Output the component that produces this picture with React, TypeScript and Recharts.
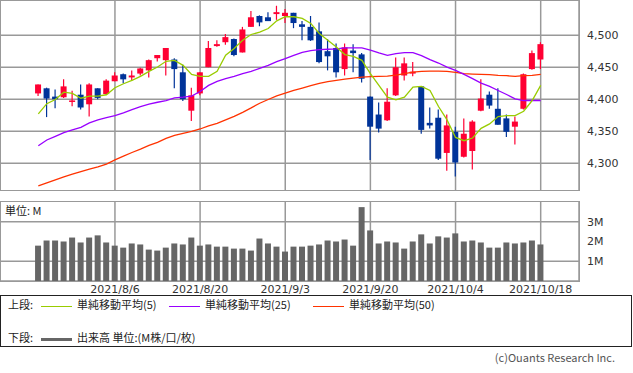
import React from "react";
import { ComposedChart, Bar, Line, XAxis, YAxis, CartesianGrid } from "recharts";

// x positions are candle indexes, labels shown every 10 sessions
const dateTicks = [9, 19, 29, 39, 49, 59];
const dateLabels = ["2021/8/6", "2021/8/20", "2021/9/3", "2021/9/20", "2021/10/4", "2021/10/18"];
const priceTicks = [4300, 4350, 4400, 4450, 4500];
const volumeTicks = [1, 2, 3];

const opens = [
  4409, 4417, 4404, 4403, 4397, 4407, 4392, 4417, 4408, 4428,
  4439, 4434, 4440, 4445, 4464, 4461, 4462, 4442, 4382, 4409,
  4450, 4483, 4489, 4494, 4473, 4513, 4530, 4528, 4533, 4530,
  4535, 4517, 4513, 4506, 4475, 4480, 4447, 4476, 4470, 4404,
  4376, 4367, 4406, 4437, 4440, 4420, 4363, 4371, 4316, 4349,
  4310, 4319, 4382, 4407, 4385, 4370, 4357, 4385, 4447, 4462,
];
const highs = [
  4423, 4418, 4415, 4431, 4413, 4423, 4425, 4417, 4431, 4442,
  4440, 4445, 4449, 4462, 4469, 4480, 4464, 4454, 4418, 4442,
  4491, 4492, 4502, 4495, 4513, 4538, 4531, 4536, 4546, 4541,
  4535, 4522, 4530, 4520, 4494, 4487, 4487, 4486, 4472, 4404,
  4395, 4417, 4465, 4465, 4458, 4420, 4387, 4384, 4376, 4357,
  4370, 4367, 4431, 4412, 4417, 4376, 4373, 4440, 4476, 4489,
];
const lows = [
  4405, 4372, 4386, 4402, 4389, 4384, 4373, 4400, 4407, 4428,
  4425, 4429, 4437, 4434, 4459, 4437, 4417, 4397, 4366, 4406,
  4450, 4482, 4485, 4467, 4473, 4513, 4514, 4522, 4524, 4519,
  4511, 4492, 4491, 4456, 4445, 4434, 4437, 4442, 4426, 4305,
  4348, 4366, 4405, 4429, 4436, 4346, 4354, 4305, 4288, 4279,
  4309, 4290, 4381, 4385, 4360, 4341, 4329, 4384, 4446, 4447,
];
const closes = [
  4423, 4401, 4400, 4420, 4398, 4387, 4423, 4402, 4429, 4437,
  4431, 4437, 4448, 4461, 4469, 4480, 4447, 4400, 4406, 4442,
  4480, 4486, 4497, 4469, 4509, 4528, 4520, 4522, 4536, 4535,
  4519, 4513, 4492, 4458, 4467, 4442, 4481, 4472, 4432, 4357,
  4354, 4396, 4450, 4456, 4443, 4352, 4359, 4307, 4359, 4301,
  4346, 4365, 4401, 4390, 4360, 4349, 4365, 4439, 4472, 4486,
];

const ma5 = [
  4377, 4393, 4399.5, 4411, 4409, 4401.5, 4404.7, 4404.7, 4406.9, 4417.9,
  4424.1, 4429.3, 4435.6, 4443.5, 4450.2, 4459.2, 4460.7, 4452.9, 4438.7, 4435.6,
  4435.6, 4443.5, 4468.6, 4479.1, 4492.2, 4501.1, 4504.7, 4510.5, 4522.5, 4528.8,
  4528.8, 4526.3, 4518.4, 4502.7, 4492.2, 4481.6, 4469.7, 4467, 4460.7, 4439.8,
  4421.5, 4403.1, 4399, 4403.1, 4418.8, 4419.9, 4413.6, 4388.5, 4367.6, 4340.2,
  4335.1, 4339.3, 4354.4, 4361.3, 4372.8, 4374.3, 4374.3, 4381.1, 4397.9, 4421.5,
];
const ma25 = [
  4327.2, 4336.2, 4341.8, 4347.6, 4351.9, 4356, 4362.9, 4367.6, 4371.2, 4374.3,
  4378.6, 4383.8, 4388.5, 4392.1, 4395.2, 4397.9, 4402.1, 4403.1, 4404.7, 4412,
  4421.5, 4427.7, 4432, 4435.6, 4439.8, 4443.5, 4448.2, 4452.9, 4458.7, 4463.4,
  4468.6, 4473.3, 4476, 4477.5, 4478, 4478.5, 4480.1, 4480.1, 4480.1, 4476.5,
  4472.2, 4468.6, 4471.3, 4472.8, 4472.8, 4468.1, 4461.8, 4456.5, 4450.2, 4445,
  4438.7, 4432, 4425.1, 4419.9, 4413.6, 4407.3, 4400.6, 4397.9, 4397.9, 4397.9,
];
const ma50 = [
  4264.4, 4269.1, 4273.8, 4278.5, 4282.7, 4286.8, 4290.6, 4294.2, 4298.5, 4305.2,
  4311, 4316.7, 4322, 4327.7, 4332.4, 4338.7, 4343.4, 4346.5, 4349.7, 4353.4,
  4358.2, 4362.2, 4367.6, 4373.2, 4379.5, 4386.4, 4393.7, 4399.5, 4405.3, 4409.4,
  4413.6, 4417.2, 4421, 4424.6, 4427.3, 4429.3, 4431.4, 4432.9, 4434.5, 4435.1,
  4435.6, 4436.1, 4437.6, 4439.8, 4442.4, 4443.5, 4443.9, 4443.9, 4443.5, 4441.9,
  4439.8, 4439.2, 4438.7, 4438.3, 4437.2, 4436.7, 4435.6, 4436.7, 4437.2, 4438.7,
];
// volume in millions
const volumes = [
  1.79, 2.05, 2.05, 2.0, 2.2, 1.95, 2.2, 2.31, 1.95, 1.79,
  1.69, 1.9, 1.85, 1.59, 1.54, 1.69, 1.9, 1.85, 2.2, 1.79,
  1.85, 1.74, 1.74, 1.64, 1.64, 1.54, 2.15, 1.9, 1.74, 1.49,
  1.74, 1.74, 1.79, 1.85, 2.05, 2.0, 2.1, 1.79, 3.74, 2.56,
  1.9, 2.0, 1.95, 1.64, 2.0, 2.36, 1.9, 2.26, 2.2, 2.41,
  2.0, 2.05, 1.95, 1.69, 1.69, 1.95, 1.9, 1.95, 2.05, 1.85,
];

const rows = opens.map((open, i) => ({
  i,
  open,
  high: highs[i],
  low: lows[i],
  close: closes[i],
  ma5: ma5[i],
  ma25: ma25[i],
  ma50: ma50[i],
  volume: volumes[i],
}));

const UP = "#ff0033";
const DOWN = "#003399";
const GRID = "#999";
const numFont = { fontSize: 11, fill: "#333", fontFamily: "DejaVu Sans" };
const jpFont = "'Noto Sans CJK JP', sans-serif";

const Candle = (props: any) => {
  const { x, y, width, height, payload } = props;
  if (!payload) return null;
  const { open, close, high, low } = payload;
  const color = close >= open ? UP : DOWN;
  const top = Math.min(y, y + height);
  const h = Math.abs(height);
  const yOf = (v: number) => (high === low ? top : top + ((high - v) / (high - low)) * h);
  const cx = x + width / 2;
  const bTop = yOf(Math.max(open, close));
  const bBot = yOf(Math.min(open, close));
  return (
    <g>
      <line x1={cx} x2={cx} y1={top} y2={top + h} stroke={color} strokeWidth={1.2} />
      <rect x={x} y={bTop} width={width} height={Math.max(bBot - bTop, 1.5)} fill={color} />
    </g>
  );
};

const dateLabel = (v: number) => dateLabels[dateTicks.indexOf(v)] ?? "";

const LegendLine = ({ color, thick }: { color: string; thick?: boolean }) => (
  <span style={{ display: "inline-block", width: 31, height: thick ? 3 : 1, background: color, margin: "0 5px 0 0", verticalAlign: "middle" }} />
);

export default function App() {
  return (
    <div style={{ position: "absolute", left: 0, top: 0, width: 633, height: 373, background: "#fff", fontFamily: jpFont, color: "#222" }}>
      {/* upper panel: candles and moving averages */}
      <div style={{ position: "absolute", left: 0, top: 0 }}>
        <ComposedChart width={633} height={191} data={rows} margin={{ top: 0, right: 0, bottom: 0, left: 0 }}>
          <CartesianGrid stroke={GRID} strokeWidth={1.5} />
          <XAxis dataKey="i" type="number" domain={[-4.5, 63.5]} ticks={dateTicks} hide allowDataOverflow />
          <YAxis
            orientation="right"
            width={54}
            domain={[4256.5, 4555]}
            ticks={priceTicks}
            allowDataOverflow
            axisLine={false}
            tickLine={false}
            tick={numFont}
            tickFormatter={(v) => v.toLocaleString("en-US")}
          />
          <Bar dataKey={(d: any) => [d.low, d.high]} shape={<Candle />} barSize={6} isAnimationActive={false} />
          <Line dataKey="ma50" stroke="#ff3300" strokeWidth={1.3} dot={false} isAnimationActive={false} />
          <Line dataKey="ma25" stroke="#9900ff" strokeWidth={1.3} dot={false} isAnimationActive={false} />
          <Line dataKey="ma5" stroke="#99cc00" strokeWidth={1.3} dot={false} isAnimationActive={false} />
        </ComposedChart>
      </div>
      <div style={{ position: "absolute", left: 0, top: 0, width: 580, height: 191, boxSizing: "border-box", border: `1px solid ${GRID}` }} />

      {/* lower panel: volume */}
      <div style={{ position: "absolute", left: 0, top: 201 }}>
        <ComposedChart width={633} height={100} data={rows} margin={{ top: 0, right: 0, bottom: 0, left: 0 }}>
          <CartesianGrid stroke={GRID} strokeWidth={1.5} />
          <XAxis
            dataKey="i"
            type="number"
            domain={[-4.5, 63.5]}
            ticks={dateTicks}
            allowDataOverflow
            height={20}
            axisLine={false}
            tickLine={false}
            tickSize={2}
            tickMargin={2}
            tick={numFont}
            tickFormatter={dateLabel}
          />
          <YAxis
            orientation="right"
            width={54}
            domain={[0, 4.05]}
            ticks={volumeTicks}
            allowDataOverflow
            axisLine={false}
            tickLine={false}
            tick={numFont}
            tickFormatter={(v) => `${v}M`}
          />
          <Bar dataKey="volume" fill="#666" barSize={6} isAnimationActive={false} />
        </ComposedChart>
      </div>
      <div style={{ position: "absolute", left: 0, top: 201, width: 580, height: 81, boxSizing: "border-box", border: `1px solid ${GRID}` }} />
      <div style={{ position: "absolute", left: 5, top: 203, fontSize: 11, lineHeight: "15px" }}>単位: M</div>

      {/* legend */}
      <div style={{ position: "absolute", left: 0, top: 295, width: 632, height: 52, boxSizing: "border-box", border: "1px solid #222", fontSize: 11 }}>
        <div style={{ position: "absolute", left: 7, top: 0, height: 16, lineHeight: "16px", whiteSpace: "nowrap" }}>
          <span style={{ display: "inline-block", width: 33 }}>上段:</span>
          <LegendLine color="#99cc00" />
          <span style={{ display: "inline-block", width: 92 }}>単純移動平均(5)</span>
          <LegendLine color="#9900ff" />
          <span style={{ display: "inline-block", width: 108 }}>単純移動平均(25)</span>
          <LegendLine color="#ff3300" />
          <span>単純移動平均(50)</span>
        </div>
        <div style={{ position: "absolute", left: 7, top: 33, height: 16, lineHeight: "16px", whiteSpace: "nowrap" }}>
          <span style={{ display: "inline-block", width: 33 }}>下段:</span>
          <LegendLine color="#666" thick />
          <span>出来高 単位:(M株/口/枚)</span>
        </div>
      </div>
      <div style={{ position: "absolute", right: 18, top: 349, fontSize: 11, lineHeight: "16px", color: "#555" }}>(c)Ouants Research Inc.</div>
    </div>
  );
}
